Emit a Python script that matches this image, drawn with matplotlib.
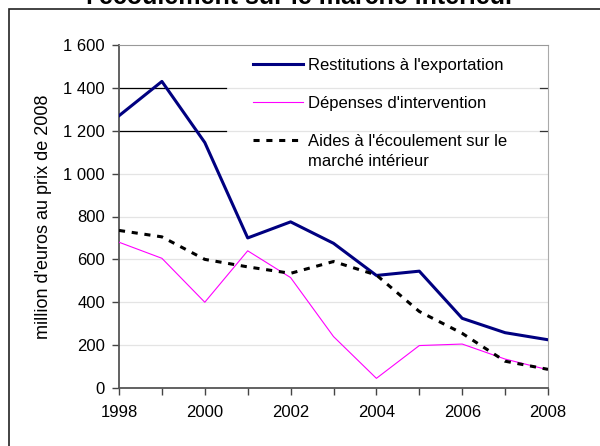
import matplotlib
matplotlib.use("Agg")
import matplotlib.pyplot as plt
from matplotlib.ticker import FuncFormatter
from matplotlib.patches import Rectangle

plt.rcParams['font.family'] = ['Liberation Sans', 'DejaVu Sans']

years = [1998, 1999, 2000, 2001, 2002, 2003, 2004, 2005, 2006, 2007, 2008]
restitutions = [1270, 1430, 1145, 700, 775, 675, 525, 545, 325, 258, 225]
depenses = [680, 605, 400, 640, 515, 240, 45, 198, 205, 135, 85]
aides = [735, 705, 600, 565, 535, 590, 527, 357, 255, 125, 87]

labels = ["Restitutions à l'exportation", "Dépenses d'intervention",
          "Aides à l'écoulement sur le"]
label_cont = "marché intérieur"
title = "l'écoulement sur le marché intérieur"
ylabel = "million d'euros au prix de 2008"

fig = plt.figure(figsize=(6, 4.46), dpi=100)
fig.patches.append(Rectangle((8.5 / 600, -0.1), 1.2, 1 - 9 / 446 + 0.1,
                             transform=fig.transFigure, fill=False,
                             edgecolor='#222222', lw=1.2))
fig.text(0.5, 1 - 4 / 446, title, ha='center', va='baseline',
         fontsize=18, fontweight='bold')

ax = fig.add_axes([119 / 600, 1 - 388 / 446, (548 - 119) / 600, (388 - 45) / 446])

ax.plot(years, restitutions, color='#000080', lw=2.2, label=labels[0], zorder=4)
ax.plot(years, depenses, color='#ff00ff', lw=0.8, label=labels[1], zorder=3)
ax.plot(years, aides, color='black', lw=2.2, linestyle=(0, (2, 2.2)),
        label=labels[2], zorder=5)

ax.set_xlim(1998, 2008)
ax.set_ylim(0, 1600)
ax.set_xticks(range(1998, 2009))
ax.set_xticklabels([str(y) if y % 2 == 0 else '' for y in range(1998, 2009)])
ax.set_yticks(range(0, 1601, 200))
ax.yaxis.set_major_formatter(FuncFormatter(lambda v, p: f"{int(v):,}".replace(',', ' ')))

for v in range(200, 1600, 200):
    ax.axhline(v, color='#e4e4e4', lw=0.9, zorder=0)
for v in (1200, 1400):
    ax.axhline(v, xmin=0, xmax=0.25, color='black', lw=0.9, zorder=1)
    ax.axhline(v, xmin=0.982, xmax=1.0, color='#333333', lw=0.9, zorder=1)

ax.tick_params(axis='both', direction='out', length=5, width=1, colors='#444444',
               labelcolor='black', labelsize=12, pad=5)
ax.tick_params(axis='x', pad=7)
for s in ('left', 'bottom'):
    ax.spines[s].set_color('#555555')
    ax.spines[s].set_linewidth(1.3)
ax.spines['right'].set_color('#aaaaaa')
ax.spines['top'].set_color('#999999')

ax.set_ylabel(ylabel, fontsize=13, labelpad=8)

leg = ax.legend(loc='upper left', bbox_to_anchor=(0.313, 0.962), frameon=False,
                fontsize=12, handlelength=3.0, handletextpad=0.3, labelspacing=1.38,
                borderaxespad=0, borderpad=0)

fig.canvas.draw()
bb = leg.get_texts()[2].get_window_extent()
inv = fig.transFigure.inverted()
x0, y0 = inv.transform((bb.x0, bb.y0))
fig.text(x0, y0 - 20 / 446, label_cont, fontsize=12, ha='left', va='bottom')

fig.savefig('out.png', dpi=100)
